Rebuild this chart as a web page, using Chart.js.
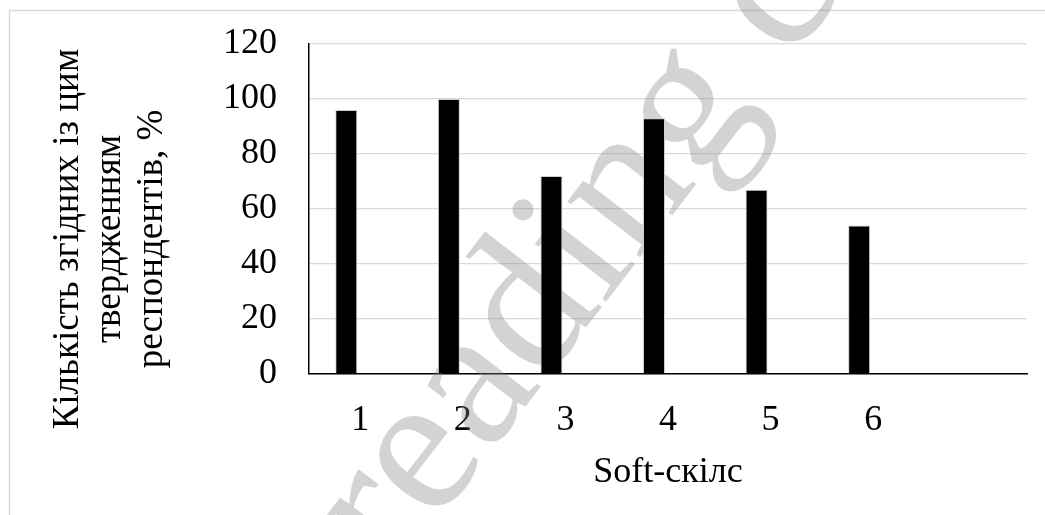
<!DOCTYPE html>
<html>
<head>
<meta charset="utf-8">
<script src="https://cdn.jsdelivr.net/npm/chart.js@4/dist/chart.umd.min.js"></script>
<style>
  html, body { margin: 0; padding: 0; background: #fff; }
  canvas { display: block; }
</style>
</head>
<body>
<canvas id="chart" width="1045" height="515"></canvas>
<script>
// Soft-skill categories (the last slot is left empty on the axis)
const categories = ['1', '2', '3', '4', '5', '6', ''];
// Share of respondents who agreed with the statement, %
const agreeShare = [96, 100, 72, 93, 67, 54];
// Companion series with no values (keeps the bars shifted inside each slot)
const emptySeries = [];
// Value axis ticks
const yTicks = [0, 20, 40, 60, 80, 100, 120];
// Axis titles
const yTitleLines = ['Кількість згідних із цим', 'твердженням', 'респондентів, %'];
const xTitle = 'Soft-скілс';
const watermarkText = 'reading copy';

const FONT = "'Liberation Serif', 'Times New Roman', serif";

const backdrop = {
  id: 'backdrop',
  beforeDraw(chart) {
    const ctx = chart.ctx;
    ctx.save();
    ctx.fillStyle = '#ffffff';
    ctx.fillRect(0, 0, chart.width, chart.height);
    ctx.strokeStyle = '#d9d9d9';
    ctx.lineWidth = 1.5;
    ctx.strokeRect(9.5, 10.5, chart.width + 40, chart.height + 40);
    ctx.restore();
  }
};

const watermark = {
  id: 'watermark',
  beforeDatasetsDraw(chart) {
    const ctx = chart.ctx;
    ctx.save();
    ctx.translate(394, 578);
    ctx.rotate(-52.5 * Math.PI / 180);
    ctx.font = '200px ' + FONT;
    ctx.fillStyle = 'rgba(128,128,128,0.35)';
    ctx.textAlign = 'left';
    ctx.textBaseline = 'alphabetic';
    ctx.fillText(watermarkText, 0, 0);
    ctx.restore();
  }
};

const axisTitles = {
  id: 'axisTitles',
  afterDraw(chart) {
    const ctx = chart.ctx;
    const area = chart.chartArea;
    ctx.save();
    ctx.fillStyle = '#000';
    ctx.textAlign = 'center';
    ctx.textBaseline = 'alphabetic';
    // horizontal axis title
    ctx.font = '36px ' + FONT;
    ctx.fillText(xTitle, (area.left + area.right) / 2, 482);
    // vertical axis title, three rotated lines
    ctx.font = '37px ' + FONT;
    const lineX = [78, 120, 162];
    yTitleLines.forEach((line, i) => {
      ctx.save();
      ctx.translate(lineX[i], 239);
      ctx.rotate(-Math.PI / 2);
      ctx.fillText(line, 0, 0);
      ctx.restore();
    });
    ctx.restore();
  }
};

new Chart(document.getElementById('chart'), {
  type: 'bar',
  data: {
    labels: categories,
    datasets: [
      {
        data: agreeShare,
        backgroundColor: '#000000',
        borderColor: '#cfcfcf',
        borderWidth: 1,
        borderSkipped: 'start',
        categoryPercentage: 0.546,
        barPercentage: 0.786
      },
      {
        data: emptySeries,
        backgroundColor: '#000000',
        categoryPercentage: 0.546,
        barPercentage: 0.786
      }
    ]
  },
  options: {
    responsive: false,
    devicePixelRatio: 1,
    animation: false,
    layout: { padding: { top: 44, right: 18, bottom: 0, left: 0 } },
    plugins: {
      legend: { display: false },
      tooltip: { enabled: false },
      title: { display: false }
    },
    scales: {
      x: {
        grid: { display: false, drawTicks: false },
        border: { display: true, color: '#000', width: 1.5 },
        ticks: {
          color: '#000',
          font: { family: FONT, size: 36 },
          padding: 25,
          maxRotation: 0,
          autoSkip: false
        },
        afterFit(scale) { scale.height = 141; }
      },
      y: {
        min: 0,
        max: 120,
        grid: { color: '#d9d9d9', lineWidth: 1.3, drawTicks: false },
        border: { display: true, color: '#000', width: 1.5 },
        ticks: {
          color: '#000',
          font: { family: FONT, size: 36 },
          padding: 32
        },
        afterBuildTicks(scale) { scale.ticks = yTicks.map(v => ({ value: v })); },
        afterFit(scale) {
          scale.width = 309;
          scale.paddingTop = 0;
          scale.paddingBottom = 0;
        }
      }
    }
  },
  plugins: [backdrop, watermark, axisTitles]
});
</script>
</body>
</html>
